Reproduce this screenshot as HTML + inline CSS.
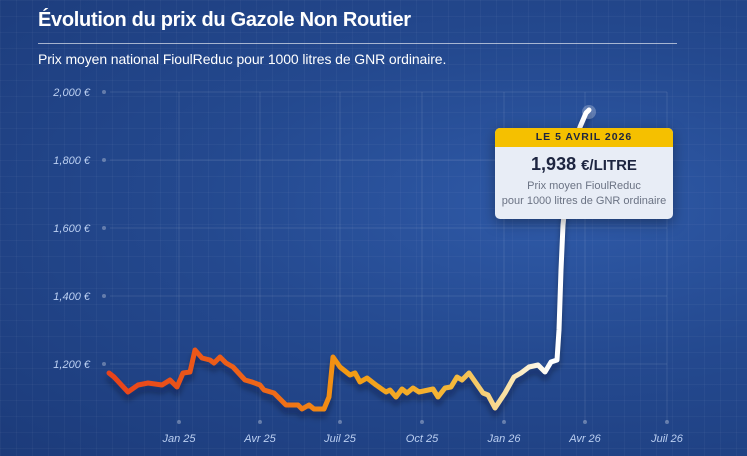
<!DOCTYPE html>
<html><head><meta charset="utf-8"><style>
html,body{margin:0;padding:0;}
body{width:747px;height:456px;overflow:hidden;position:relative;font-family:"Liberation Sans",sans-serif;
background:radial-gradient(ellipse at 75% 45%,#2f5aa8 0%,#24498f 45%,#1c3b7a 100%);}
.grid{position:absolute;inset:0;background-image:linear-gradient(rgba(255,255,255,0.03) 1px,transparent 1px),linear-gradient(90deg,rgba(255,255,255,0.03) 1px,transparent 1px);background-size:16px 16px;}
.title{position:absolute;left:38px;top:9px;color:#fff;font-size:20px;font-weight:bold;letter-spacing:-0.3px}
.hr{position:absolute;left:38px;top:43px;width:639px;height:1px;background:rgba(255,255,255,0.6)}
.sub{position:absolute;left:38px;top:51px;color:#fff;font-size:14px;letter-spacing:-0.1px}
.tip{position:absolute;left:495px;top:128px;width:178px;height:91px;background:#e8edf6;border-radius:5px;box-shadow:0 4px 14px rgba(0,0,0,0.35);overflow:hidden;text-align:center}
.tip .h{background:#f5c000;height:19px;line-height:19px;font-size:10.5px;font-weight:bold;letter-spacing:1px;color:#1d2540}
.tip .v{font-size:18px;font-weight:bold;color:#1d2540;margin-top:7px}
.tip .v span{font-size:15px}
.tip .d{font-size:11px;color:#6b7384;line-height:15px;margin-top:4px}
</style></head><body>
<div class="grid"></div>
<svg width="747" height="456" style="position:absolute;left:0;top:0">
<defs>
<linearGradient id="lg" x1="105" x2="590" y1="0" y2="0" gradientUnits="userSpaceOnUse">
<stop offset="0" stop-color="#e8421a"/><stop offset="0.35" stop-color="#ef6a18"/><stop offset="0.5" stop-color="#f39a12"/><stop offset="0.72" stop-color="#f4b83a"/><stop offset="0.83" stop-color="#f9e2a8"/><stop offset="0.92" stop-color="#ffffff"/><stop offset="1" stop-color="#ffffff"/>
</linearGradient>
<filter id="sh" x="-10%" y="-10%" width="120%" height="130%"><feGaussianBlur stdDeviation="3"/></filter>
</defs>
<g stroke="rgba(255,255,255,0.1)" stroke-width="1">
<line x1="110" x2="667" y1="92" y2="92"/><line x1="110" x2="667" y1="160" y2="160"/><line x1="110" x2="667" y1="228" y2="228"/><line x1="110" x2="667" y1="296" y2="296"/><line x1="110" x2="667" y1="364" y2="364"/>
<line x1="179" x2="179" y1="92" y2="422"/><line x1="260" x2="260" y1="92" y2="422"/><line x1="340" x2="340" y1="92" y2="422"/><line x1="422" x2="422" y1="92" y2="422"/><line x1="504" x2="504" y1="92" y2="422"/><line x1="585" x2="585" y1="92" y2="422"/><line x1="667" x2="667" y1="92" y2="422"/>
</g>
<g fill="rgba(255,255,255,0.3)">
<circle cx="104" cy="92" r="2"/><circle cx="104" cy="160" r="2"/><circle cx="104" cy="228" r="2"/><circle cx="104" cy="296" r="2"/><circle cx="104" cy="364" r="2"/>
<circle cx="179" cy="422" r="2"/><circle cx="260" cy="422" r="2"/><circle cx="340" cy="422" r="2"/><circle cx="422" cy="422" r="2"/><circle cx="504" cy="422" r="2"/><circle cx="585" cy="422" r="2"/><circle cx="667" cy="422" r="2"/>
</g>
<g fill="#bcd0f2" font-size="11" font-style="italic" text-anchor="end" font-family="Liberation Sans,sans-serif">
<text x="90" y="96">2,000 €</text><text x="90" y="164">1,800 €</text><text x="90" y="232">1,600 €</text><text x="90" y="300">1,400 €</text><text x="90" y="368">1,200 €</text>
</g>
<g fill="#bcd0f2" font-size="11" font-style="italic" text-anchor="middle" font-family="Liberation Sans,sans-serif">
<text x="179" y="442">Jan 25</text><text x="260" y="442">Avr 25</text><text x="340" y="442">Juil 25</text><text x="422" y="442">Oct 25</text><text x="504" y="442">Jan 26</text><text x="585" y="442">Avr 26</text><text x="667" y="442">Juil 26</text>
</g>
<polyline fill="none" stroke="rgba(0,0,20,0.35)" stroke-width="5" filter="url(#sh)" transform="translate(0,6)" stroke-linejoin="round" stroke-linecap="round" points="109,373 114,377 128,392 138,385 148,383 162,385 170,380 177,387 183,373 190,372 195,350 202,358 210,360 214,363 220,357 226,363 233,367 245,380 252,382 260,385 264,390 274,393 286,405 298,405 302,409 309,405 314,409 324,409 329,397 333,357 340,367 350,375 355,373 360,382 367,378 376,385 386,392 390,390 396,397 402,389 407,393 413,388 419,392 433,389 438,397 445,388 451,387 457,377 462,380 469,373 476,383 483,393 488,395 495,408 505,393 514,377 521,373 529,367 538,365 545,372 551,362 557,360 559,330 561,270 563,225 567,185 573,150 580,127 586,113 589,110"/>
<circle cx="589" cy="112" r="7" fill="rgba(255,255,255,0.25)"/>
<polyline fill="none" stroke="url(#lg)" stroke-width="5" stroke-linejoin="round" stroke-linecap="round" points="109,373 114,377 128,392 138,385 148,383 162,385 170,380 177,387 183,373 190,372 195,350 202,358 210,360 214,363 220,357 226,363 233,367 245,380 252,382 260,385 264,390 274,393 286,405 298,405 302,409 309,405 314,409 324,409 329,397 333,357 340,367 350,375 355,373 360,382 367,378 376,385 386,392 390,390 396,397 402,389 407,393 413,388 419,392 433,389 438,397 445,388 451,387 457,377 462,380 469,373 476,383 483,393 488,395 495,408 505,393 514,377 521,373 529,367 538,365 545,372 551,362 557,360 559,330 561,270 563,225 567,185 573,150 580,127 586,113 589,110"/>
</svg>
<div class="title">Évolution du prix du Gazole Non Routier</div>
<div class="hr"></div>
<div class="sub">Prix moyen national FioulReduc pour 1000 litres de GNR ordinaire.</div>
<div class="tip"><div class="h">LE 5 AVRIL 2026</div><div class="v">1,938 <span>€/LITRE</span></div><div class="d">Prix moyen FioulReduc<br>pour 1000 litres de GNR ordinaire</div></div>
</body></html>
